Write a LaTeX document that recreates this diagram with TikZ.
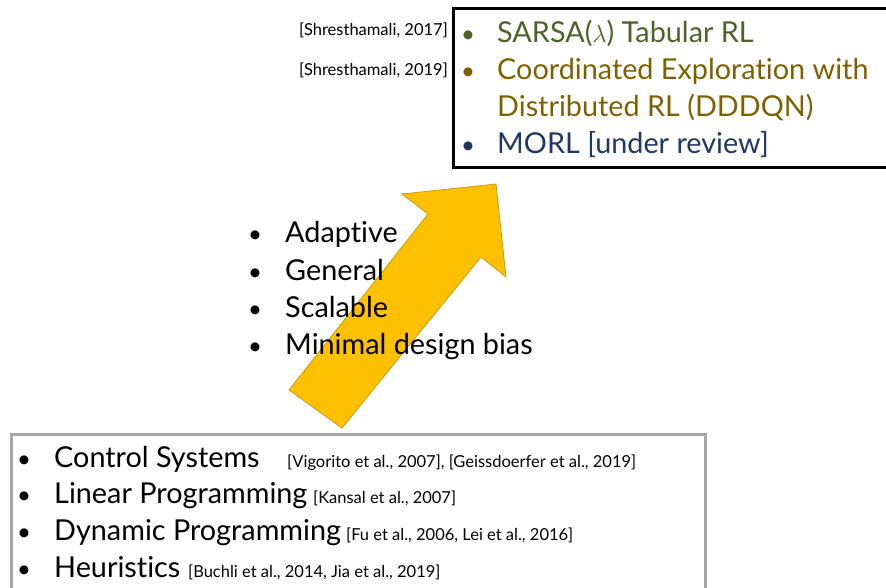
\documentclass[tikz,border=0pt]{standalone}
\usepackage{fontspec}
\setmainfont{Lato}[Ligatures={NoCommon}]
\newcommand{\nolig}{\kern0pt\relax}
\definecolor{rlgreen}{HTML}{4F6228}
\definecolor{rlbrown}{HTML}{7F6000}
\definecolor{rlblue}{HTML}{203864}
\definecolor{arrowfill}{HTML}{FFC000}
\definecolor{arrowedge}{HTML}{C89600}
\definecolor{boxgray}{HTML}{A6A6A6}
\tikzset{
  big/.style={anchor=base west, inner sep=0pt, font=\fontsize{28.8}{32}\selectfont},
  refs/.style={inner sep=0pt, font=\fontsize{16.5}{19}\selectfont},
  dot/.style={anchor=base, inner sep=0pt, font=\fontsize{24}{28}\selectfont},
}
\begin{document}
\begin{tikzpicture}[x=1pt,y=-1pt]
\useasboundingbox (0,0) rectangle (886,588);
\clip (0,0) rectangle (886,588);

% big block arrow pointing up-right
\filldraw[fill=arrowfill, draw=arrowedge, line width=0.7pt]
  (289,390) -- (428,214) -- (402,194) -- (496,184) -- (506,277)
  -- (481,257) -- (342,428) -- cycle;

% upper box (open to the right)
\draw[line width=3pt] (895,8.5) -- (453.5,8.5) -- (453.5,168) -- (895,168);

\node[refs, anchor=base east] (c1) at (448,36) {[Shresthamali, 2017]};
\node[refs, anchor=base east] (c2) at (448,76) {[Shresthamali, 2019]};

\node[dot, text=rlgreen] (b1) at (468,43) {\textbullet};
\node[big, text=rlgreen] (t1) at (497,43) {SARSA($\lambda$) Tabular RL};
\node[dot, text=rlbrown] (b2) at (468,80) {\textbullet};
\node[big, text=rlbrown] (t2) at (497,80) {Coordinated Explorat\nolig ion with};
\node[big, text=rlbrown] (t3) at (497,117) {Distributed RL (DDDQN)};
\node[dot, text=rlblue] (b4) at (468,154) {\textbullet};
\node[big, text=rlblue] (t4) at (497,154) {MORL [under review]};

% properties list
\node[dot] (m1) at (255,243) {\textbullet};
\node[big] (p1) at (285,243) {Adapt\nolig ive};
\node[dot] (m2) at (255,280) {\textbullet};
\node[big] (p2) at (285,280) {General};
\node[dot] (m3) at (255,317) {\textbullet};
\node[big] (p3) at (285,317) {Scalable};
\node[dot] (m4) at (255,354) {\textbullet};
\node[big] (p4) at (285,354) {Minimal design bias};

% lower box (open at the bottom)
\draw[boxgray, line width=3pt] (11.5,600) -- (11.5,434) -- (705.5,434) -- (705.5,600);

\node[dot] (d1) at (24,467) {\textbullet};
\node[big] (l1) at (54,467) {Control Systems};
\node[refs, anchor=base west] (r1) at (287,467) {[Vigorito et al., 2007], [Geissdoerfer et al., 2019]};
\node[dot] (d2) at (24,503) {\textbullet};
\node[big] (l2) at (54,503) {Linear Programming};
\node[refs, anchor=base west] (r2) at (313,503) {[Kansal et al., 2007]};
\node[dot] (d3) at (24,540) {\textbullet};
\node[big] (l3) at (54,540) {Dynamic Programming};
\node[refs, anchor=base west] (r3) at (346,540) {[Fu et al., 2006, Lei et al., 2016]};
\node[dot] (d4) at (24,577) {\textbullet};
\node[big] (l4) at (54,577) {Heurist\nolig ics};
\node[refs, anchor=base west] (r4) at (188,577) {[Buchli et al., 2014, Jia et al., 2019]};
\end{tikzpicture}
\end{document}
